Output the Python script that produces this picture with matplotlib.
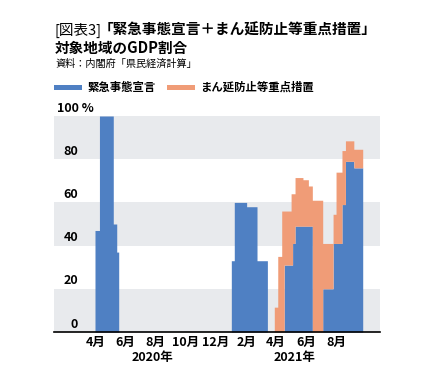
import matplotlib
matplotlib.use('Agg')
import matplotlib.pyplot as plt
import matplotlib.transforms as mtransforms
from matplotlib.patches import Rectangle
import pandas as pd

plt.rcParams['font.family'] = ['Noto Sans CJK JP', 'DejaVu Sans']

# 緊急事態宣言 : GDP share of covered prefectures (%), value holds from each date on
emergency_dates = ['2020-04-07', '2020-04-16', '2020-05-14', '2020-05-21', '2020-05-25',
                   '2021-01-08', '2021-01-14', '2021-02-08', '2021-03-01', '2021-03-22',
                   '2021-04-25', '2021-05-12', '2021-05-17', '2021-06-21',
                   '2021-07-12', '2021-08-02', '2021-08-20', '2021-08-27', '2021-09-13', '2021-10-01']
emergency_pct = [47, 100, 50, 37, 0,
                 33, 60, 58, 33, 0,
                 31, 41, 49, 0,
                 20, 41, 59, 79, 76, 0]

# まん延防止等重点措置 : stacked on top of the emergency share
manbou_dates = ['2021-04-05', '2021-04-12', '2021-04-20', '2021-04-25', '2021-05-09',
                '2021-05-12', '2021-05-17', '2021-06-02', '2021-06-13', '2021-06-21',
                '2021-07-12', '2021-08-02', '2021-08-08', '2021-08-20', '2021-08-27',
                '2021-09-13', '2021-10-01']
manbou_pct = [11.5, 35, 56, 25, 33,
              23, 22.5, 21.5, 18.6, 61,
              21, 13.5, 33, 25, 9.5,
              8.6, 0]

month_ticks = ['2020-04-01', '2020-06-01', '2020-08-01', '2020-10-01', '2020-12-01',
               '2021-02-01', '2021-04-01', '2021-06-01', '2021-08-01']
month_labels = ['4月', '6月', '8月', '10月', '12月', '2月', '4月', '6月', '8月']
year_ticks = ['2020-08-01', '2021-05-16']
year_labels = ['2020年', '2021年']
y_ticks = [0, 20, 40, 60, 80, 100]

BLUE = '#4f80c3'
ORANGE = '#f09c77'
BAND = '#e8eaed'

days = pd.date_range('2020-01-15', '2021-11-05', freq='D')


def daily(dates, vals):
    s = pd.Series(vals, index=pd.to_datetime(dates))
    return s.reindex(days, method='ffill').fillna(0).values


em = daily(emergency_dates, emergency_pct)
mb = daily(manbou_dates, manbou_pct)

fig = plt.figure(figsize=(4.34, 3.83), dpi=100)
ax = fig.add_axes([54 / 434, 51 / 383, 326 / 434, 216 / 383])

for lo in (0, 40, 80):
    ax.axhspan(lo, lo + 20, color=BAND, lw=0, zorder=0)

ax.fill_between(days, 0, em, step='post', color=BLUE, lw=0, zorder=2)
ax.fill_between(days, em, em + mb, step='post', color=ORANGE, lw=0, zorder=2)

ax.set_xlim(days[0], days[-1])
ax.set_ylim(0, 100)
for s in ['left', 'right', 'top']:
    ax.spines[s].set_visible(False)
ax.spines['bottom'].set_color('black')
ax.spines['bottom'].set_linewidth(1.2)
ax.spines['bottom'].set_zorder(3)

ax.set_yticks([])
ax.set_xticks(pd.to_datetime(month_ticks) + pd.Timedelta(days=7))
ax.set_xticklabels(month_labels, fontsize=9, fontweight='bold')
ax.tick_params(axis='x', length=0, pad=2.5)

trans_x = mtransforms.blended_transform_factory(ax.transData, ax.transAxes)
for pos, lab in zip(pd.to_datetime(year_ticks), year_labels):
    ax.text(pos, -0.118, lab, transform=trans_x, ha='center', va='center',
            fontsize=9, fontweight='bold')

trans_y = mtransforms.blended_transform_factory(ax.transAxes, ax.transData)
for v in y_ticks:
    if v == 100:
        ax.text(0.009, v + 3.7, '100 %', transform=trans_y, ha='left', va='center',
                fontsize=9, fontweight='bold')
    else:
        ax.text(0.074, v + 3.7, str(v), transform=trans_y, ha='right', va='center',
                fontsize=9, fontweight='bold')

# title block
t1 = fig.text(55 / 434, 1 - 35 / 383, '[図表3]', fontsize=10.5, va='baseline')
fig.canvas.draw()
bb = t1.get_window_extent()
fig.text((bb.x1 - 3) / fig.bbox.width, 1 - 35 / 383, '「緊急事態宣言＋まん延防止等重点措置」',
         fontsize=10.5, fontweight='bold', va='baseline')
fig.text(55 / 434, 1 - 53 / 383, '対象地域のGDP割合', fontsize=10.5,
         fontweight='bold', va='baseline')
fig.text(55 / 434, 1 - 64 / 383, '資料：内閣府「県民経済計算」', fontsize=7.3, va='center')

# legend
fig.patches.append(Rectangle((54 / 434, 1 - 90 / 383), 28 / 434, 5.5 / 383,
                             transform=fig.transFigure, color=BLUE, lw=0))
fig.text(87 / 434, 1 - 87.5 / 383, '緊急事態宣言', fontsize=8.2, fontweight='bold', va='center')
fig.patches.append(Rectangle((167 / 434, 1 - 90 / 383), 28 / 434, 5.5 / 383,
                             transform=fig.transFigure, color=ORANGE, lw=0))
fig.text(200 / 434, 1 - 87.5 / 383, 'まん延防止等重点措置', fontsize=8.2, fontweight='bold', va='center')

fig.savefig('out.png', dpi=100)
